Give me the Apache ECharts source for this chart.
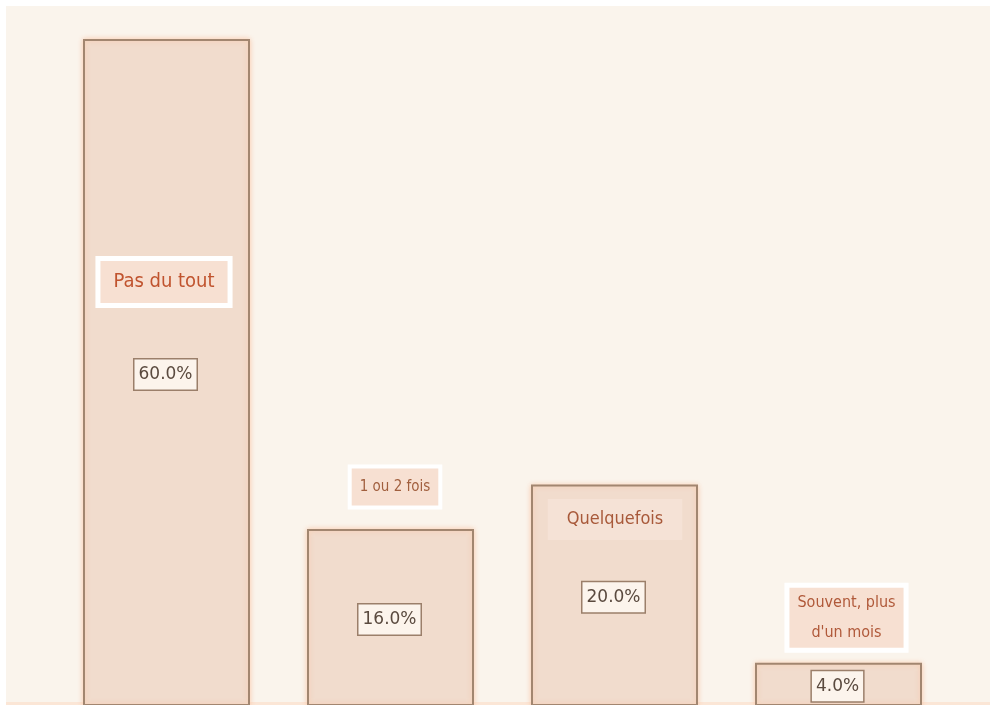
<!DOCTYPE html>
<html>
<head>
<meta charset="utf-8">
<script src="https://cdn.jsdelivr.net/npm/echarts@6/dist/echarts.min.js"></script>
<style>
html,body{margin:0;padding:0;background:#fff;}
#chart{width:990px;height:705px;}
</style>
</head>
<body>
<div id="chart"></div>
<script>
// ---- data ----
const categories = ['Pas du tout', '1 ou 2 fois', 'Quelquefois', 'Souvent, plus\nd\'un mois'];
const values = [60.0, 16.0, 20.0, 4.0];

// ---- label layout (style only) ----
const catLabelPos = [[81, 243], [88, -42], [84, 35], [91.5, -45]];
const catLabelStyle = [
  {fontSize: 20, color: '#c0532e', borderWidth: 5, padding: [12, 13, 10, 13], backgroundColor: '#f7e0d2'},
  {fontSize: 15, color: '#a15f3e', borderWidth: 4, padding: [12, 8, 10, 8], backgroundColor: '#f7e0d2'},
  {fontSize: 18, color: '#a8593a', borderWidth: 0, padding: [12, 19, 11, 19], backgroundColor: '#f5e2d6'},
  {fontSize: 16, color: '#b0593a', borderWidth: 5, padding: [0, 8, 0, 8], backgroundColor: '#f7e0d2', lineHeight: 30}
];

const chart = echarts.init(document.getElementById('chart'), null, {renderer: 'canvas'});

const catData = values.map((v, i) => ({
  value: v,
  label: Object.assign({
    show: true,
    position: catLabelPos[i],
    align: 'center',
    verticalAlign: 'middle',
    fontFamily: '"DejaVu Sans Condensed", "Liberation Sans Narrow", sans-serif',
    borderColor: '#ffffff',
    formatter: () => categories[i]
  }, catLabelStyle[i])
}));

chart.setOption({
  backgroundColor: '#ffffff',
  animation: false,
  graphic: [
    {type: 'rect', z: -100, silent: true, shape: {x: 6, y: 6, width: 984, height: 699}, style: {fill: '#faf4ec'}},
    {type: 'rect', z: -99, silent: true, shape: {x: 6, y: 702, width: 984, height: 3}, style: {fill: '#fbe6d6'}}
  ],
  grid: {left: 54.5, right: 39.5, top: 16.8, bottom: 0, containLabel: false},
  xAxis: {type: 'category', data: categories, show: false},
  yAxis: {type: 'value', min: 0.2, max: 62, show: false},
  series: [
    {
      type: 'bar',
      data: values,
      barWidth: 167,
      barGap: '-100%',
      clip: true,
      itemStyle: {
        color: '#f1dccd',
        borderColor: '#a28670',
        borderWidth: 2,
        shadowBlur: 5,
        shadowColor: 'rgba(252,196,160,0.8)'
      },
      label: {
        show: true,
        position: 'inside',
        offset: [-1, 2],
        formatter: p => p.value.toFixed(1) + '%',
        fontFamily: '"DejaVu Sans", sans-serif',
        fontSize: 17,
        color: '#5a4a3f',
        backgroundColor: '#fcf4ec',
        borderColor: '#9b7f6a',
        borderWidth: 1.5,
        padding: [7, 4, 6, 4]
      }
    },
    {
      type: 'bar',
      data: catData,
      barWidth: 167,
      barGap: '-100%',
      silent: true,
      itemStyle: {color: 'rgba(0,0,0,0)', borderWidth: 0}
    }
  ]
});
</script>
</body>
</html>
